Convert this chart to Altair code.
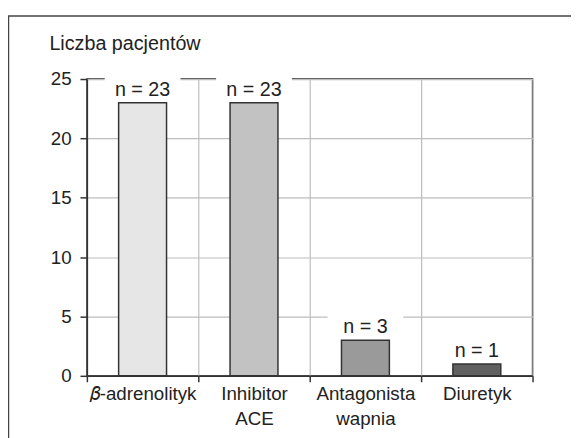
import altair as alt
import pandas as pd

categories = ["𝛽-adrenolityk", "Inhibitor ACE", "Antagonista wapnia", "Diuretyk"]
values = [23, 23, 3, 1]
labels = ["n = 23", "n = 23", "n = 3", "n = 1"]
colors = ["#e6e6e6", "#c2c2c2", "#9a9a9a", "#606060"]

df = pd.DataFrame({"cat": categories, "value": values, "label": labels, "color": colors})

FONT = "Liberation Sans, Arial, sans-serif"

x = alt.X("cat:N", sort=categories, title=None,
          scale=alt.Scale(paddingInner=0, paddingOuter=0),
          axis=alt.Axis(labelAngle=0, tickBand="extent", grid=True,
                        labelExpr="split(datum.label, ' ')",
                        labelFont=FONT, labelFontSize=19, labelColor="#222",
                        labelLineHeight=25, labelPadding=3, tickSize=6, tickColor="#333",
                        tickWidth=1.5, domainColor="#333", domainWidth=1.5,
                        gridColor="#bdbdbd", gridWidth=1.2))
y = alt.Y("value:Q", title=None, scale=alt.Scale(domain=[0, 25], nice=False),
          axis=alt.Axis(values=[0, 5, 10, 15, 20, 25], labelFont=FONT, labelFontSize=19,
                        labelColor="#222", labelPadding=9, tickSize=7, tickColor="#333",
                        tickWidth=1.5, domainColor="#333", domainWidth=1.5,
                        gridColor="#bdbdbd", gridWidth=1.2))

bars = alt.Chart(df).mark_bar(width={"band": 0.43}, stroke="#333", strokeWidth=1.5).encode(
    x=x, y=y, color=alt.Color("color:N", scale=None))

bg = alt.Chart(df).transform_calculate(
    lo="datum.value + 0.45", hi="datum.value + 2.3"
).mark_bar(width={"band": 0.68}, color="white").encode(
    x=alt.X("cat:N", sort=categories), y="lo:Q", y2="hi:Q")

txt = alt.Chart(df).mark_text(font=FONT, fontSize=20, color="#222", baseline="alphabetic", dy=-7).encode(
    x=alt.X("cat:N", sort=categories), y="value:Q", text="label:N")

title = alt.Chart(pd.DataFrame({"t": ["Liczba pacjentów"]})).mark_text(
    font=FONT, fontSize=20, color="#222", align="left", baseline="alphabetic").encode(
    x=alt.value(-38), y=alt.value(-29), text="t:N")

frame_top = alt.Chart(pd.DataFrame({"a": [0]})).mark_rule(color="#444", strokeWidth=1.5).encode(
    x=alt.value(-80), x2=alt.value(495), y=alt.value(-64))
frame_left = alt.Chart(pd.DataFrame({"a": [0]})).mark_rule(color="#444", strokeWidth=1.5).encode(
    x=alt.value(-79.5), y=alt.value(-64), y2=alt.value(365))

chart = alt.layer(frame_top, frame_left, bars, bg, txt, title).properties(
    width=452, height=301,
    autosize=alt.AutoSizeParams(type="none"),
    padding={"left": 80, "top": 69, "right": 39, "bottom": 60},
).configure_view(stroke="#333", strokeWidth=1.5)

chart.save("out.html", embed_options={"renderer": "svg", "actions": False})
